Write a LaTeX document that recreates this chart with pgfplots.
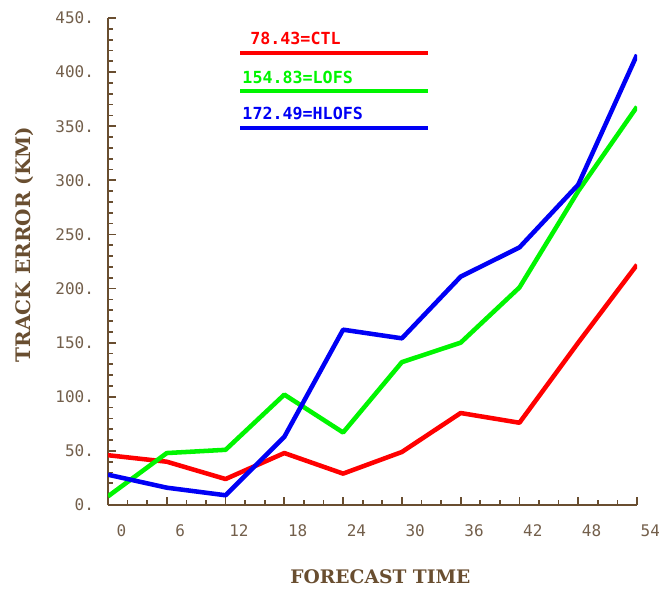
\documentclass[border=0pt]{standalone}
\usepackage{pgfplots}
\pgfplotsset{compat=1.18}
\usepackage{fontspec}
\setmainfont{DejaVu Sans Mono}
\newfontfamily\labfont{DejaVu Serif}
\definecolor{axbrown}{RGB}{105,78,48}
\definecolor{tickbrown}{RGB}{115,95,75}
\definecolor{lred}{RGB}{255,0,0}
\definecolor{lgreen}{RGB}{0,245,0}
\definecolor{lblue}{RGB}{0,0,245}
\begin{document}
\begin{tikzpicture}
\path[use as bounding box] (-81pt,-65.25pt) rectangle (413.25pt,378.75pt);
\begin{axis}[
  at={(0pt,0pt)}, anchor=south west,
  scale only axis, width=396.75pt, height=365.25pt,
  xmin=0, xmax=54, ymin=0, ymax=450,
  axis x line*=bottom, axis y line*=left,
  axis line style={-, draw=axbrown, line width=2pt},
  tick align=inside,
  major tick length=6pt, minor tick length=3.5pt,
  every tick/.style={draw=axbrown, line width=1.3pt},
  xtick={0,6,...,54}, minor x tick num=2,
  ytick={0,50,...,450}, minor y tick num=4,
  xticklabels={0,6,12,18,24,30,36,42,48,54},
  yticklabels={0.,50.,100.,150.,200.,250.,300.,350.,400.,450.},
  xticklabel style={font=\fontsize{12}{14}\selectfont, text=tickbrown, anchor=north, yshift=-11pt, xshift=10pt},
  yticklabel style={font=\fontsize{12}{14}\selectfont, text=tickbrown, anchor=east, xshift=-7pt},
  xlabel={FORECAST TIME},
  ylabel={TRACK ERROR (KM)},
  xlabel style={at={(axis description cs:0.515,0)}, anchor=center, yshift=-54pt, font=\labfont\bfseries\fontsize{14}{16}\selectfont, text=axbrown},
  ylabel style={at={(axis description cs:-0.157,0.535)}, anchor=center, font=\labfont\bfseries\fontsize{15}{17}\selectfont, text=axbrown},
  every axis plot/.append style={line width=3.4pt, line join=round, no markers},
]
\addplot[lred] coordinates {(0,46) (6,40) (12,24) (18,48) (24,29) (30,49) (36,85) (42,76) (48,150) (54,222)};
\addplot[lgreen] coordinates {(0,8) (6,48) (12,51) (18,102) (24,67) (30,132) (36,150) (42,201) (48,290) (54,368)};
\addplot[lblue] coordinates {(0,28) (6,16) (12,9) (18,63) (24,162) (30,154) (36,211) (42,238) (48,296) (54,416)};
\draw[lred, line width=3.6pt] (axis cs:13.5,417.7) -- (axis cs:32.7,417.7);
\draw[lgreen, line width=3.6pt] (axis cs:13.5,382.5) -- (axis cs:32.7,382.5);
\draw[lblue, line width=3.6pt] (axis cs:13.5,348.4) -- (axis cs:32.7,348.4);
\node[anchor=west, text=lred, inner sep=0pt, font=\bfseries\fontsize{12.5}{14}\selectfont] at (axis cs:14.5,431.5) {78.43=CTL};
\node[anchor=west, text=lgreen, inner sep=0pt, font=\bfseries\fontsize{12.5}{14}\selectfont] at (axis cs:13.7,395.5) {154.83=LOFS};
\node[anchor=west, text=lblue, inner sep=0pt, font=\bfseries\fontsize{12.5}{14}\selectfont] at (axis cs:13.7,362.2) {172.49=HLOFS};
\end{axis}
\end{tikzpicture}
\end{document}
